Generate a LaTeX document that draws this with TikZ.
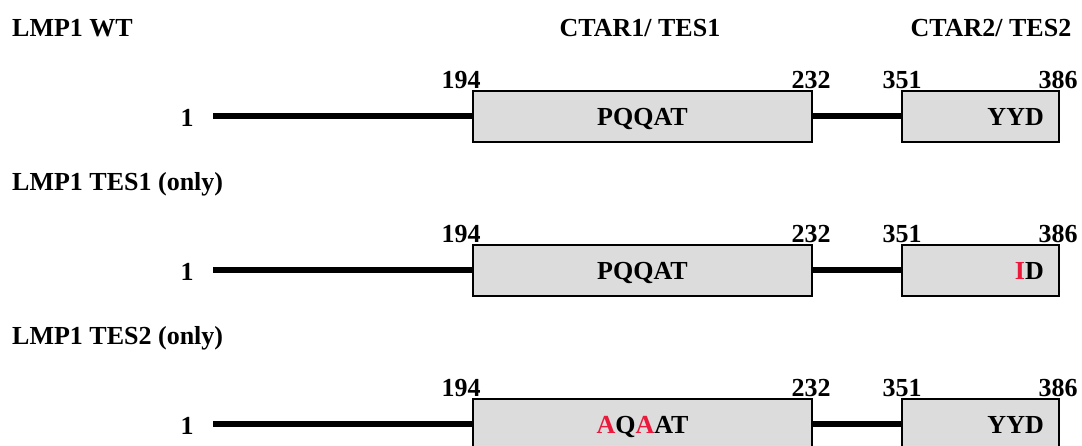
\documentclass[tikz,border=0pt]{standalone}
\usepackage{fontspec}
\setmainfont{Liberation Serif}
\usepackage{xcolor}
\usepackage{tikz}
\usetikzlibrary{positioning}
\definecolor{mutRed}{RGB}{235,25,60}
\definecolor{boxGray}{RGB}{220,220,220}
\newcommand{\mut}[1]{\textcolor{mutRed}{#1}}
\tikzset{
  lbl/.style={font=\fontsize{26}{30}\selectfont\bfseries,inner sep=0pt},
  dom/.style={draw,line width=2pt,fill=boxGray,minimum height=51pt,inner sep=0pt},
  bb/.style={line width=6pt},
}

\begin{document}
\begin{tikzpicture}[x=1pt,y=-1pt]
  \useasboundingbox (0,0) rectangle (1082,445);
  % column headers
  \node[lbl,anchor=base west] (wt) at (12,36) {LMP1 WT};
  \node[lbl,anchor=base] (ctar1) at (640,36) {CTAR1/ TES1};
  \node[lbl,anchor=base] (ctar2) at (991,36) {CTAR2/ TES2};
  \node[lbl,anchor=base west] (only1) at (12,190) {LMP1 TES1 (only)};
  \node[lbl,anchor=base west] (only2) at (12,344) {LMP1 TES2 (only)};

  % one row per construct
  \foreach \i/\ta/\tb in {0/{PQQAT}/{YYD},1/{PQQAT}/{\mut{I}D},2/{\mut{A}Q\mut{A}AT}/{YYD}} {
    \begin{scope}[yshift=-154*\i pt]
      \node[dom,minimum width=339pt] (tes1-\i) at (642.5,116) {};
      \node[dom,minimum width=157pt] (tes2-\i) at (980.5,116) {};
      \node[lbl,anchor=base] (seq1-\i) at (642.5,125) {\ta};
      \node[lbl,anchor=base east] (seq2-\i) at (1044,125) {\tb};
      \node[lbl,anchor=base] (one-\i) at (187,126) {1};
      \coordinate (start-\i) at (213,116);
      \node[lbl,anchor=base] (p194-\i) at (461,88) {194};
      \node[lbl,anchor=base] (p232-\i) at (811,88) {232};
      \node[lbl,anchor=base] (p351-\i) at (902,88) {351};
      \node[lbl,anchor=base] (p386-\i) at (1058,88) {386};
      \draw[bb] (start-\i) -- (tes1-\i.west);
      \draw[bb] (tes1-\i.east) -- (tes2-\i.west);
    \end{scope}
  }
\end{tikzpicture}
\end{document}
